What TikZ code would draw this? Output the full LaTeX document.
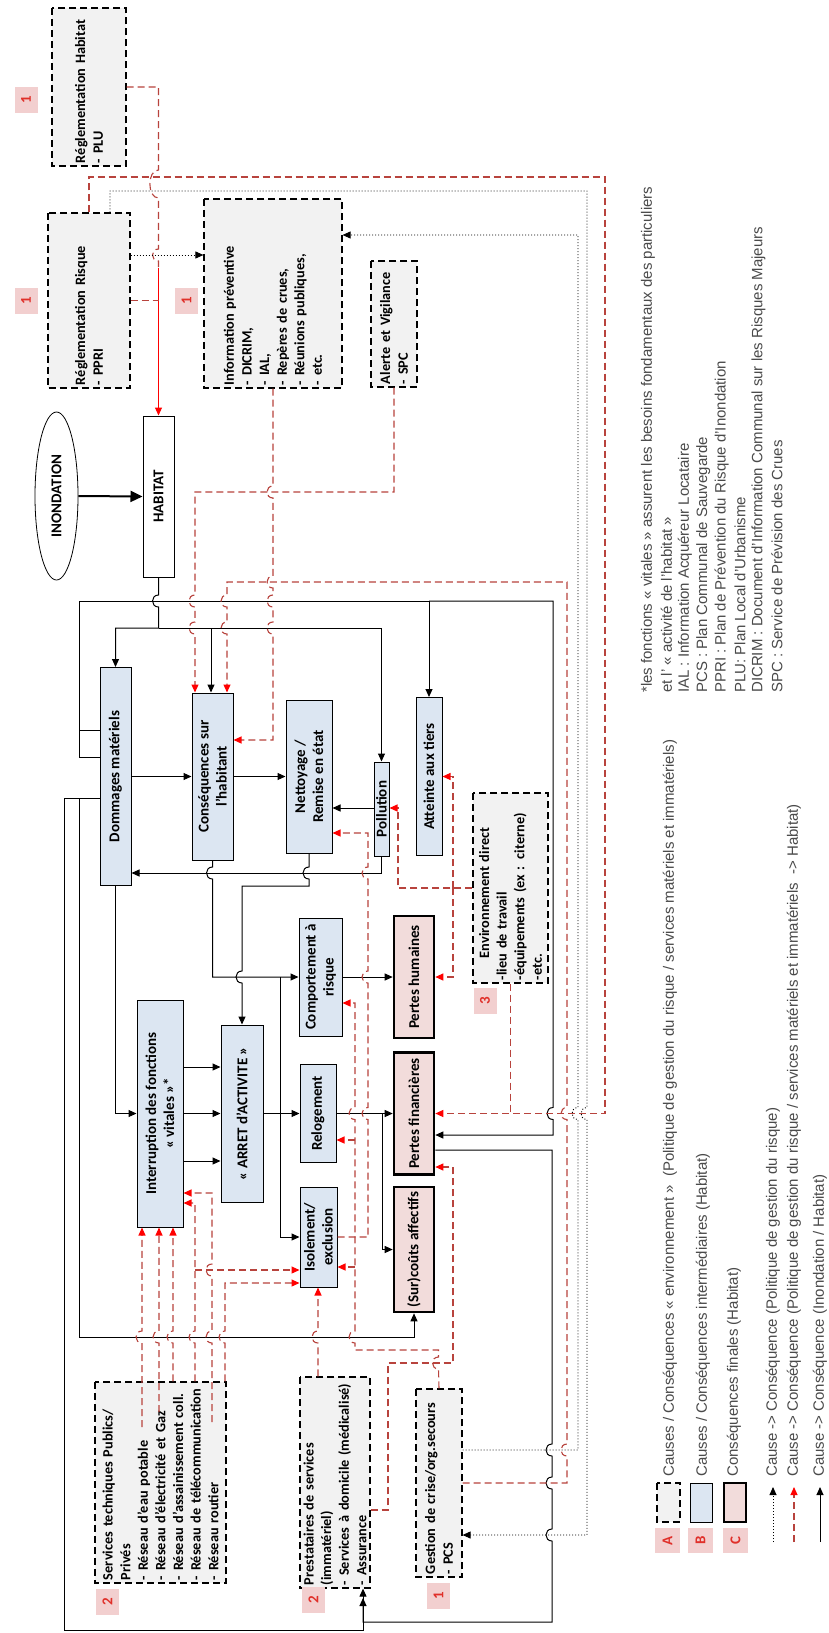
\documentclass[tikz,border=0pt]{standalone}
\usepackage{fontspec}
\setmainfont{Carlito}
\newfontfamily\legf{Liberation Sans}
\usetikzlibrary{arrows.meta,shapes.geometric}
\definecolor{grayA}{HTML}{F2F2F2}
\definecolor{blueB}{HTML}{DCE6F2}
\definecolor{pinkC}{HTML}{F2DCDB}
\definecolor{labfill}{HTML}{F2CFCF}
\definecolor{labred}{HTML}{E0302A}
\definecolor{redline}{HTML}{B8433D}
\definecolor{legtext}{HTML}{4A4A4A}
\newcommand\bxf{\fontsize{15}{18}\selectfont\bfseries}
\newcommand\axf{\fontsize{14.3}{17.6}\selectfont\bfseries}
\newcommand\lgf{\legf\fontsize{15}{18}\selectfont}
\newcommand\lmb[1]{\mbox{#1}}
\tikzset{
  hd/.style args={#1/#2}{insert path={-- (#1,#2-6) .. controls (#1-8,#2-6) and (#1-8,#2+6) .. (#1,#2+6)}},
  hu/.style args={#1/#2}{insert path={-- (#1,#2+6) .. controls (#1-8,#2+6) and (#1-8,#2-6) .. (#1,#2-6)}},
  abox/.style={draw=black, line width=1.2pt, dash pattern=on 7pt off 4pt, fill=grayA, rotate=90,
    inner xsep=3pt, inner ysep=0pt, align=left, font=\axf},
  bbox/.style={draw=black, line width=1pt, fill=blueB, rotate=90, inner sep=0pt, align=center, font=\bxf},
  cbox/.style={draw=black, line width=2.6pt, fill=pinkC, rotate=90, inner sep=0pt, align=center, font=\bxf},
  lab/.style={fill=labfill, text=labred, rotate=90, minimum width=26pt, minimum height=23pt, inner sep=0pt,
    font=\fontsize{15}{15}\selectfont\bfseries},
  legtxt/.style={rotate=90, anchor=west, inner sep=0pt, font=\lgf, text=legtext},
  bl/.style={draw=black, line width=1pt},
  ba/.style={bl, -{Triangle[length=8pt,width=7pt]}},
  rl/.style={draw=redline, line width=1.1pt, dash pattern=on 7pt off 4pt},
  ra/.style={rl, -{Triangle[length=8pt,width=7pt,color=red]}},
  dl/.style={draw=black, line width=0.9pt, dash pattern=on 1pt off 2pt},
  da/.style={dl, -{Triangle[length=8pt,width=7pt,color=black]}},
}
\begin{document}
\begin{tikzpicture}[x=1pt,y=-1pt]
\fill[white] (0,0) rectangle (829,1633);
\useasboundingbox (0,0) rectangle (829,1633);

% ---------- A boxes (top) ----------
\node[abox, minimum width=158pt, minimum height=74pt, text width=152pt] (rh) at (89,87) {\lmb{Réglementation Habitat}\\\lmb{- PLU}};
\node[abox, minimum width=175pt, minimum height=82pt, text width=169pt] (rr) at (89,300.5) {\lmb{Réglementation Risque}\\\lmb{- PPRI}};
\node[abox, minimum width=189pt, minimum height=138pt, text width=183pt] (ip) at (273,293.5) {\lmb{Information préventive}\\\lmb{- DICRIM,}\\\lmb{- IAL,}\\\lmb{- Repères de crues,}\\\lmb{- Réunions publiques,}\\\lmb{- etc.}};
\node[abox, minimum width=126pt, minimum height=46pt, text width=120pt] (av) at (394,324) {\lmb{Alerte et Vigilance}\\\lmb{- SPC}};

\node[lab] (l1a) at (26,100) {1};
\node[lab] (l1b) at (26,300.5) {1};
\node[lab] (l1c) at (186.5,300.5) {1};

% ---------- main ----------
\node[ellipse, draw=black, line width=0.8pt, rotate=90, minimum width=168pt, minimum height=43pt, inner sep=0pt, font=\bxf] (inond) at (56.5,496) {INONDATION};
\node[draw=black, fill=white, line width=1pt, rotate=90, minimum width=161pt, minimum height=31pt, inner sep=0pt, font=\bxf] (hab) at (158.5,496.5) {HABITAT};

\node[bbox, minimum width=218pt, minimum height=31pt] (dm) at (115.5,776.5) {Dommages matériels};
\node[bbox, minimum width=167pt, minimum height=41pt] (csh) at (212.5,776.5) {Conséquences sur\\l’habitant};
\node[bbox, minimum width=153pt, minimum height=46pt] (nr) at (309,776.5) {Nettoyage /\\Remise en état};
\node[bbox, minimum width=94pt, minimum height=15pt] (poll) at (381.5,809) {Pollution};
\node[bbox, minimum width=158pt, minimum height=26pt] (at) at (429,776.5) {Atteinte aux tiers};
\node[abox, minimum width=190pt, minimum height=75pt, text width=184pt] (envd) at (510.5,888) {\hspace*{22pt}\lmb{Environnement direct}\\\lmb{-lieu de travail}\\\lmb{-équipements (ex : citerne)}\\\lmb{-etc.}};
\node[lab] (l3) at (485,1000.5) {3};

\node[bbox, minimum width=227pt, minimum height=46pt] (ivf) at (160,1113.5) {Interruption des fonctions\\«~vitales~»*};
\node[bbox, minimum width=177pt, minimum height=42pt] (arret) at (242,1113.5) {«~ARRET d’ACTIVITE~»};
\node[bbox, minimum width=118pt, minimum height=43pt] (cr) at (320.5,977) {Comportement à\\risque};
\node[bbox, minimum width=98pt, minimum height=36pt] (rel) at (318,1113.5) {Relogement};
\node[bbox, minimum width=100pt, minimum height=37pt] (iso) at (318.5,1237) {Isolement/\\exclusion};
\node[cbox, minimum width=122pt, minimum height=40pt] (ph) at (414,977) {Pertes humaines};
\node[cbox, minimum width=122pt, minimum height=40pt] (pf) at (414,1113.5) {Pertes financières};
\node[cbox, minimum width=125pt, minimum height=40pt] (sca) at (414,1249.5) {(Sur)coûts affectifs};

% ---------- A boxes (bottom) ----------
\node[abox, minimum width=201pt, minimum height=131pt, text width=195pt] (st) at (160.5,1482.5) {\lmb{Services techniques Publics/}\\\lmb{Privés}\\\lmb{- Réseau d’eau potable}\\\lmb{- Réseau d’électricité et Gaz}\\\lmb{- Réseau d’assainissement coll.}\\\lmb{- Réseau de télécommunication}\\\lmb{- Réseau routier}};
\node[abox, minimum width=211pt, minimum height=70pt, text width=205pt] (ps) at (335,1482.5) {\lmb{Prestataires de services}\\\lmb{(immatériel)}\\\lmb{- Services à domicile (médicalisé)}\\\lmb{- Assurance}};
\node[abox, minimum width=188pt, minimum height=46pt, text width=182pt] (gc) at (439,1483) {\lmb{Gestion de crise/org.secours}\\\lmb{- PCS}};
\node[lab] (l2a) at (107.5,1601.5) {2};
\node[lab] (l2b) at (313.5,1599.5) {2};
\node[lab] (l1d) at (438.5,1595.5) {1};

% ---------- black connectors ----------
\draw[line width=2pt, -{Triangle[length=12pt,width=11pt]}] (inond.south) -- (hab.north);
\draw[ba] (hab.west) [hd=158.5/601] -- (158.5,628) -| (dm.east);
\draw[ba] (158.5,628) -| (poll.east);
\draw[ba] (211,628) -- (211,0 |- csh.east);
\draw[bl] (dm.north |- 0,730) -- (79,730);
\draw[ba] (dm.north |- 0,757) -- (79,757) -- (79,601) -| (at.east);
\draw[ba] (429,601) -- (553,601) [hd=553/1113.5] -- (553,1135) -- (pf.south |- 0,1135);
\draw[ba] (dm.north |- 0,798) -- (79,798) -- (79,1337) -| (sca.west);
\draw[ba] (79,798) -- (64,798) -- (64,1630) -- (363,1630) -- (363,0 |- ps.west);
\draw[ba] (pf.south |- 0,1150) -- (552,1150) [hd=552/1450] [hd=552/1483] [hd=552/1535] -- (552,1622) -- (363,1622) -- (363,1598);
\draw[ba] (dm.south) -- (csh.north);
\draw[ba] (csh.south) -- (nr.north);
\draw[ba] (poll.north |- 0,808) -- (nr.south |- 0,808);
\draw[ba] (poll.west) -- (381.5,873) -- (dm.south |- 0,873);
\draw[ba] (nr.west) [hd=309/873] -- (309,886) -- (242,886) [hd=242/977] -- (arret.east);
\draw[ba] (csh.west) [hd=212.5/873] -- (212.5,977) -- (cr.north);
\draw[ba] (280,977) -- (280,1237) -- (iso.north);
\draw[ba] (dm.west) -- (115.5,1113.5) -- (ivf.north);
\draw[ba] (ivf.south |- 0,1067) -- (arret.north |- 0,1067);
\draw[ba] (ivf.south) -- (arret.north);
\draw[ba] (ivf.south |- 0,1161) -- (arret.north |- 0,1161);
\draw[ba] (arret.south) -- (rel.north);
\draw[ba] (rel.south) -- (pf.north);
\draw[ba] (382,1113.5) -- (382,1249.5) -- (sca.north);
\draw[ba] (cr.south) -- (ph.north);

% ---------- red connectors ----------
\draw[rl] (rh.south) -- (158.5,87) -- (158.5,170) .. controls (147,170) and (147,198) .. (158.5,198) [hd=158.5/255] -- (158.5,268);
\draw[draw=red, line width=1.1pt, -{Triangle[length=8pt,width=7pt,color=red]}] (158.5,268) -- (hab.east);
\draw[rl] (rr.south) -- (158.5,300.5);
\draw[ra] (89,0 |- rr.east) -- (89,177) -- (605,177) -- (605,1113.5) -- (pf.south |- 0,1113.5);
\draw[rl] (envd.west) -- (510.5,1113.5);
\draw[ra] (ip.west) [hd=273/492] [hd=273/582] [hd=273/601] [hd=273/628] -- (273,740) -- (csh.south |- 0,740);
\draw[ra] (av.west) -- (394,492) -- (195,492) [hd=195/601] [hd=195/628] -- (195,0 |- csh.east);
\draw[ra] (gc.south |- 0,1483) -- (567,1483) [hu=567/1450] [hu=567/1113.5] -- (567,582) -- (227,582) [hd=227/601] [hd=227/628] -- (227,0 |- csh.east);
\draw[ra] (gc.east) [hu=438.5/1363] -- (438.5,1350) -- (355,1350) [hu=355/1337] [hu=355/1113.5] -- (355,1003) -- (cr.south |- 0,1003);
\draw[ra] (355,1140) -- (rel.south |- 0,1140);
\draw[ra] (355,1267) -- (iso.south |- 0,1267);
\draw[ra] (iso.south) -- (368,1237) [hu=368/1113.5] [hu=368/977] [hu=368/873] -- (368,833) -- (nr.south |- 0,833);
\draw[ra] (envd.north) -- (398,888) -- (398,808) -- (poll.south |- 0,808);
\draw[ra] (453,888) -- (453,776.5) -- (at.south);
\draw[ra] (453,888) -- (453,977) -- (ph.south);
\draw[ra] (ps.south |- 0,1510) -- (388,1510) -- (388,1363) -- (453,1363) -- (453,1167) -- (pf.south |- 0,1167);
\draw[ra] (318,0 |- ps.east) [hu=318/1337] -- (318,0 |- iso.west);
\draw[ra] (142,1427) [hu=142/1337] -- (142,0 |- ivf.west);
\draw[ra] (159,1412) [hu=159/1337] -- (159,0 |- ivf.west);
\draw[ra] (173,0 |- st.east) [hu=173/1337] -- (173,0 |- ivf.west);
\draw[ra] (195,0 |- st.east) [hu=195/1337] -- (195,1203) -- (ivf.south |- 0,1203);
\draw[ra] (195,1270) -- (iso.north |- 0,1270);
\draw[ra] (212,1422) [hu=212/1337] [hu=212/1270] -- (212,1193) -- (ivf.south |- 0,1193);
\draw[ra] (225,0 |- st.east) [hu=225/1337] -- (225,1283) -- (iso.north |- 0,1283);

% ---------- dotted connectors ----------
\draw[da] (rr.south |- 0,255) -- (ip.north |- 0,255);
\draw[da] (110,0 |- rr.east) -- (110,191) -- (587,191) [hd=587/1113.5] -- (587,1535) -- (gc.south |- 0,1535);
\draw[da] (gc.south |- 0,1450) -- (578,1450) [hu=578/1113.5] -- (578,235) -- (ip.south |- 0,235);

% ---------- legend ----------
\node[legtxt] (n1) at (648,693) {*les fonctions « vitales » assurent les besoins fondamentaux des particuliers};
\node[legtxt] (n2) at (666.4,693) {et l’ « activité de l’habitat »};
\node[legtxt] (n3) at (684.8,693) {IAL : Information Acquéreur Locataire};
\node[legtxt] (n4) at (703.2,693) {PCS : Plan Communal de Sauvegarde};
\node[legtxt] (n5) at (721.6,693) {PPRI : Plan de Prévention du Risque d’Inondation};
\node[legtxt] (n6) at (740,693) {PLU: Plan Local d’Urbanisme};
\node[legtxt] (n7) at (758.4,693) {DICRIM : Document d’Information Communal sur les Risques Majeurs};
\node[legtxt] (n8) at (776.8,693) {SPC : Service de Prévision des Crues};

\node[lab, minimum width=25pt, minimum height=25pt] (la) at (667.5,1540.5) {A};
\node[lab, minimum width=25pt, minimum height=25pt] (lb) at (700.5,1540.5) {B};
\node[lab, minimum width=25pt, minimum height=25pt] (lc) at (735.5,1540.5) {C};
\node[abox, minimum width=39pt, minimum height=23pt, text width=31pt] (ia) at (668.5,1502.5) {};
\node[bbox, minimum width=39pt, minimum height=22pt] (ib) at (701,1502.5) {};
\node[cbox, minimum width=39pt, minimum height=22pt] (ic) at (735,1502.5) {};
\coordinate (d1s) at (773,1542); \coordinate (d1e) at (773,1487);
\coordinate (d2s) at (794,1542); \coordinate (d2e) at (794,1487);
\coordinate (d3s) at (820,1542); \coordinate (d3e) at (820,1487);
\draw[da] (d1s) -- (d1e);
\draw[ra] (d2s) -- (d2e);
\draw[ba] (d3s) -- (d3e);
\node[legtxt] (t1) at (670,1477) {Causes / Conséquences « environnement »~~(Politique de gestion du risque / services matériels et immatériels)};
\node[legtxt] (t2) at (703,1477) {Causes / Conséquences intermédiaires (Habitat)};
\node[legtxt] (t3) at (734,1477) {Conséquences finales (Habitat)};
\node[legtxt] (t4) at (773,1477) {Cause -> Conséquence (Politique de gestion du risque)};
\node[legtxt] (t5) at (794,1477) {Cause -> Conséquence (Politique de gestion du risque / services matériels et immatériels~~-> Habitat)};
\node[legtxt] (t6) at (820,1477) {Cause -> Conséquence (Inondation / Habitat)};
\end{tikzpicture}
\end{document}
